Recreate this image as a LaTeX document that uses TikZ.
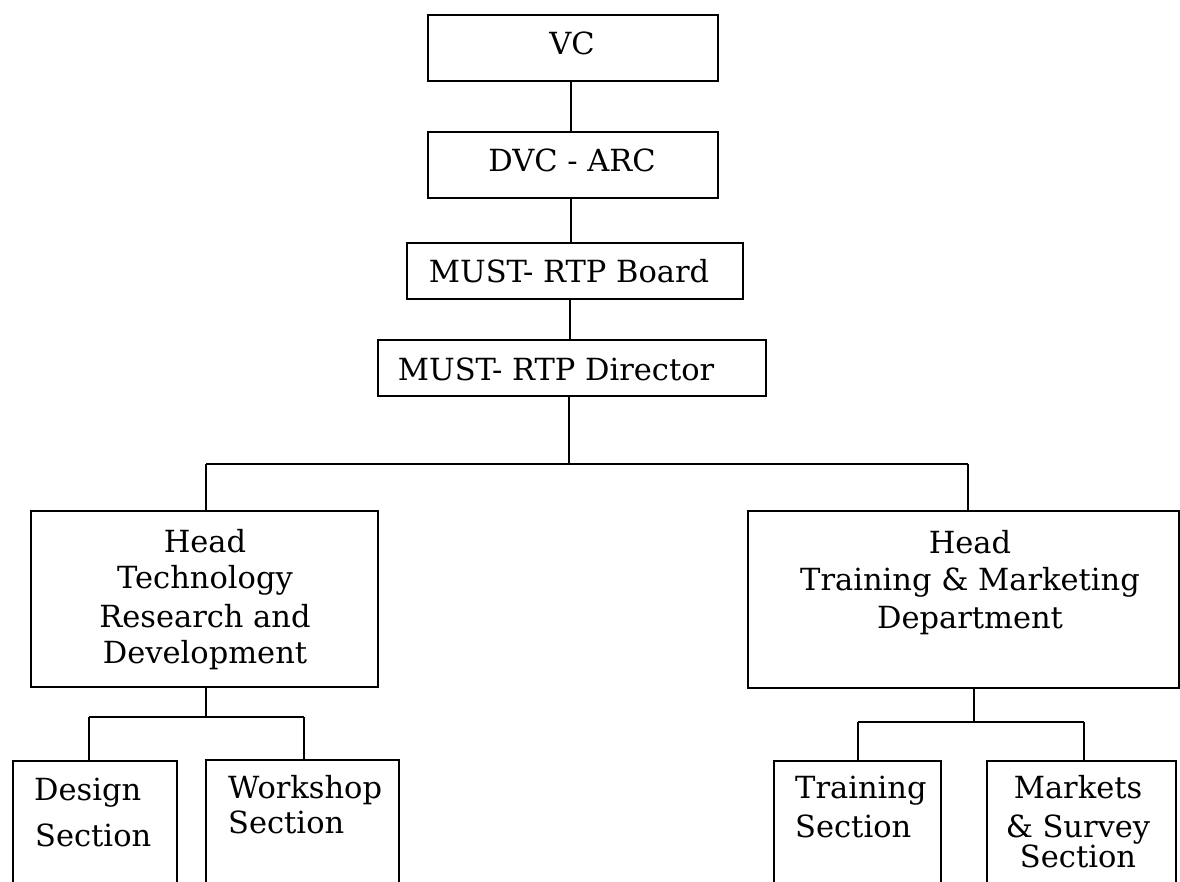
\documentclass[tikz,border=0pt]{standalone}
\usepackage{fontspec}
\setmainfont{DejaVu Serif}
\begin{document}
\begin{tikzpicture}[x=1pt,y=-1pt,
  box/.style={draw=black,line width=2pt,inner sep=0pt,anchor=north west},
  conn/.style={draw=black,line width=2pt},
  lbl/.style={anchor=base,inner sep=0pt,font=\fontsize{30.5}{36}\selectfont},
  lbll/.style={anchor=base west,inner sep=0pt,font=\fontsize{30.5}{36}\selectfont}]
\useasboundingbox (0,0) rectangle (1180,882);
\clip (0,0) rectangle (1180,882);
% boxes
\node[box,minimum width=290pt,minimum height=66pt] (vc) at (427,14) {};
\node[box,minimum width=290pt,minimum height=66pt] (dvc) at (427,131) {};
\node[box,minimum width=336pt,minimum height=56pt] (board) at (406,242) {};
\node[box,minimum width=388pt,minimum height=56pt] (dir) at (377,339) {};
\node[box,minimum width=347pt,minimum height=176pt] (lh) at (30,510) {};
\node[box,minimum width=431pt,minimum height=177pt] (rh) at (747,510) {};
\node[box,minimum width=164pt,minimum height=160pt] (des) at (12,760) {};
\node[box,minimum width=193pt,minimum height=160pt] (ws) at (205,759) {};
\node[box,minimum width=167pt,minimum height=160pt] (tr) at (773,760) {};
\node[box,minimum width=189pt,minimum height=160pt] (mk) at (986,760) {};
% texts
\node[lbl] (tvc) at (572,55) {VC};
\node[lbl] (tdvc) at (572,172) {DVC - ARC};
\node[lbl] (tboard) at (569,283) {MUST- RTP Board};
\node[lbl] (tdir) at (556,380) {MUST- RTP Director};
\node[lbl] (tlh1) at (205,552) {Head};
\node[lbl] (tlh2) at (205,588) {Technology};
\node[lbl] (tlh3) at (205,627) {Research and};
\node[lbl] (tlh4) at (205,663) {Development};
\node[lbl] (trh1) at (970,553) {Head};
\node[lbl] (trh2) at (970,590) {Training \& Marketing};
\node[lbl] (trh3) at (970,628) {Department};
\node[lbll] (tdes1) at (34,800) {Design};
\node[lbll] (tdes2) at (35,846) {Section};
\node[lbll] (tws1) at (228,798) {Workshop};
\node[lbll] (tws2) at (228,833) {Section};
\node[lbll] (ttr1) at (795,798) {Training};
\node[lbll] (ttr2) at (795,837) {Section};
\node[lbl] (tmk1) at (1078,798) {Markets};
\node[lbl] (tmk2) at (1078,837) {\& Survey};
\node[lbl] (tmk3) at (1078,867) {Section};
% connector coordinates
\coordinate (a0) at (571,80);
\coordinate (b0) at (570,298);
\coordinate (d0) at (569,395);
\coordinate (d1) at (569,464);
\coordinate (lj) at (206,464);
\coordinate (rj) at (968,464);
\coordinate (lb) at (206,686);
\coordinate (lbj) at (206,717);
\coordinate (l1) at (89,717);
\coordinate (l2) at (304,717);
\coordinate (rb) at (974,687);
\coordinate (rbj) at (974,722);
\coordinate (r1) at (858,722);
\coordinate (r2) at (1084,722);
% connectors
\draw[conn] (a0) -- (a0 |- dvc.north);
\draw[conn] (a0 |- dvc.south) -- (a0 |- board.north);
\draw[conn] (b0) -- (b0 |- dir.north);
\draw[conn] (d0) -- (d1);
\draw[conn] (lj) -- (rj);
\draw[conn] (lj) -- (lh.north -| lj);
\draw[conn] (rj) -- (rh.north -| rj);
\draw[conn] (lb) -- (lbj);
\draw[conn] (l1) -- (l2);
\draw[conn] (l1) -- (des.north -| l1);
\draw[conn] (l2) -- (ws.north -| l2);
\draw[conn] (rb) -- (rbj);
\draw[conn] (r1) -- (r2);
\draw[conn] (r1) -- (tr.north -| r1);
\draw[conn] (r2) -- (mk.north -| r2);
\end{tikzpicture}
\end{document}
